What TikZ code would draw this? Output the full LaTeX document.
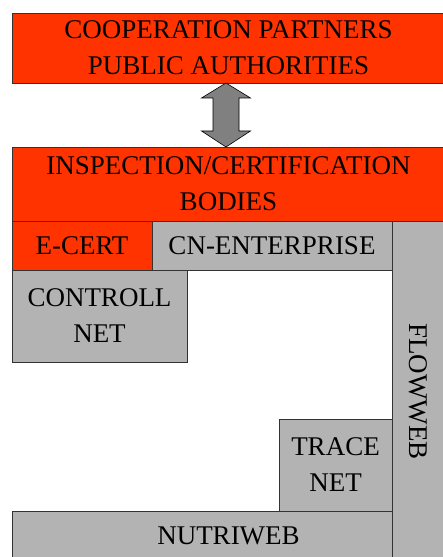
\documentclass[tikz,border=0pt]{standalone}
\usepackage{fontspec}
\setmainfont{Liberation Serif}
\usepackage{xcolor}
\usetikzlibrary{calc}

\definecolor{boxred}{HTML}{FF3300}
\definecolor{boxgray}{HTML}{B3B3B3}
\definecolor{arrowgray}{HTML}{808080}
\definecolor{edgegray}{HTML}{333333}

\tikzset{
  block/.style={rectangle, draw=edgegray, line width=0.9pt, inner sep=0pt, outer sep=0pt,
    anchor=north west, align=center, font=\fontsize{27}{36}\selectfont},
  redblock/.style={block, fill=boxred},
  grayblock/.style={block, fill=boxgray},
  bigarrow/.style={draw=black, line width=0.6pt, fill=arrowgray}
}

\begin{document}
\begin{tikzpicture}[x=1pt, y=1pt]
\useasboundingbox (0,0) rectangle (443,557);
\clip (0,0) rectangle (443,557);

\node[redblock, minimum width=433pt, minimum height=70pt] (coop) at (12,544) {COOPERATION PARTNERS\\PUBLIC AUTHORITIES};

\node[redblock, minimum width=433pt, minimum height=74pt] (insp) at (12,410) {INSPECTION/CERTIFICATION\\BODIES};

\node[redblock, minimum width=140pt, minimum height=49pt] (ecert) at (insp.south west) {E-CERT};

\node[grayblock, minimum width=240pt, minimum height=49pt] (cnent) at (ecert.north east) {CN-ENTERPRISE};

\node[grayblock, minimum width=175pt, minimum height=92pt] (ctrl) at (ecert.south west) {CONTROLL\\NET};

\node[grayblock, minimum width=433pt, minimum height=52pt] (nutri) at (12,46) {};
\node[font=\fontsize{27}{36}\selectfont, inner sep=0pt] (nutritext) at ($(nutri.north)+(0,-25)$) {NUTRIWEB};

\node[grayblock, minimum width=53pt, minimum height=345pt] (flow) at (cnent.north east) {};
\node[rotate=-90, font=\fontsize{27}{36}\selectfont, inner sep=0pt] (flowtext) at ($(flow.center)+(0,2)$) {FLOWWEB};

\node[grayblock, minimum width=113pt, minimum height=92pt, anchor=south east] (trace) at (flow.west |- nutri.north) {TRACE\\NET};

% double arrow between the two top blocks
\coordinate (tipup) at ($(coop.south)+(-2.5,0)$);
\coordinate (tipdown) at ($(insp.north)+(-2.5,0)$);
\draw[bigarrow] (tipup) -- ++(24.5,-15) -- ++(-11.5,0) -- ($(tipdown)+(13,16)$) -- ++(11.5,0)
  -- (tipdown) -- ++(-24.5,16) -- ++(11.5,0) -- ($(tipup)+(-13,-15)$) -- ++(-11.5,0) -- cycle;

\end{tikzpicture}
\end{document}
